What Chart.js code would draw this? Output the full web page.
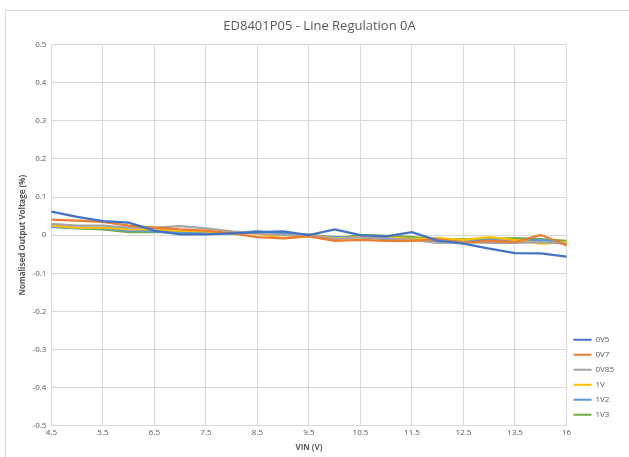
<!DOCTYPE html>
<html>
<head>
<meta charset="utf-8">
<script src="https://cdn.jsdelivr.net/npm/chart.js@4/dist/chart.umd.min.js"></script>
<style>
  body { margin: 0; background: #fff; }
  #wrap { position: relative; width: 629px; height: 457px; }
  #frame { position: absolute; left: 5px; top: 10px; right: -5px; bottom: -5px; border: 1px solid #d9d9d9; }
  canvas { position: absolute; left: 0; top: 0; }
</style>
</head>
<body>
<div id="wrap">
  <div id="frame"></div>
  <canvas id="myChart" width="629" height="457"></canvas>
</div>
<script>
  // input voltage categories (Excel category axis, label every other one)
  var vin = ['4.5', '5', '5.5', '6', '6.5', '7', '7.5', '8', '8.5', '9', '9.5', '10',
             '10.5', '11', '11.5', '12', '12.5', '13', '13.5', '15', '16'];

  var v0V5  = [0.062, 0.048, 0.037, 0.033, 0.012, 0.002, 0.002, 0.005, 0.008, 0.010, 0.000, 0.015,
               0.000, -0.003, 0.008, -0.014, -0.022, -0.035, -0.047, -0.048, -0.056];
  var v0V7  = [0.041, 0.038, 0.035, 0.025, 0.020, 0.015, 0.012, 0.005, -0.005, -0.008, -0.003, -0.015,
               -0.012, -0.015, -0.015, -0.010, -0.020, -0.015, -0.018, 0.001, -0.027];
  var v0V85 = [0.030, 0.025, 0.025, 0.020, 0.020, 0.024, 0.018, 0.010, 0.005, 0.000, 0.000, -0.010,
               -0.005, -0.008, -0.012, -0.020, -0.018, -0.020, -0.020, -0.018, -0.022];
  var v1V   = [0.025, 0.020, 0.020, 0.015, 0.015, 0.012, 0.010, 0.005, 0.005, -0.008, 0.000, -0.008,
               -0.005, -0.005, -0.010, -0.008, -0.012, -0.005, -0.012, -0.022, -0.018];
  var v1V2  = [0.022, 0.020, 0.018, 0.012, 0.010, 0.005, 0.005, 0.005, 0.010, 0.005, 0.000, -0.005,
               -0.005, -0.010, -0.012, -0.015, -0.015, -0.012, -0.015, -0.012, -0.020];
  var v1V3  = [0.022, 0.018, 0.015, 0.008, 0.008, 0.008, 0.005, 0.005, 0.010, 0.000, 0.002, -0.008,
               0.000, -0.002, -0.005, -0.010, -0.010, -0.010, -0.008, -0.010, -0.015];

  function line(label, values, color) {
    return {
      label: label,
      data: values,
      borderColor: color,
      backgroundColor: color,
      borderWidth: 2.25,
      pointRadius: 0,
      tension: 0
    };
  }

  var grey = '#595959';
  var ctx = document.getElementById('myChart').getContext('2d');
  var myChart = new Chart(ctx, {
    type: 'line',
    data: {
      labels: vin,
      datasets: [
        line('0V5', v0V5, '#4472C4'),
        line('0V7', v0V7, '#ED7D31'),
        line('0V85', v0V85, '#A5A5A5'),
        line('1V', v1V, '#FFC000'),
        line('1V2', v1V2, '#5B9BD5'),
        line('1V3', v1V3, '#70AD47')
      ]
    },
    options: {
      responsive: false,
      animation: false,
      layout: { padding: { left: 15, right: 5, top: 18, bottom: 4 } },
      plugins: {
        title: {
          display: true,
          text: 'ED8401P05 - Line Regulation 0A',
          color: grey,
          font: { family: 'Open Sans', size: 13, weight: 'normal' },
          padding: { top: 0, bottom: 11 }
        },
        legend: {
          position: 'right',
          align: 'end',
          fullSize: false,
          labels: {
            boxWidth: 18,
            boxHeight: 2,
            padding: 7,
            color: grey,
            font: { family: 'Open Sans', size: 8 },
            generateLabels: function (chart) {
              var items = Chart.defaults.plugins.legend.labels.generateLabels(chart);
              items.forEach(function (it) { it.lineWidth = 0; });
              return items;
            }
          }
        },
        tooltip: { enabled: false }
      },
      scales: {
        x: {
          type: 'category',
          offset: false,
          grid: {
            color: function (c) { return c.index % 2 === 0 ? '#d9d9d9' : 'rgba(0,0,0,0)'; },
            drawTicks: false
          },
          border: { display: false },
          ticks: {
            autoSkip: false,
            maxRotation: 0,
            padding: 2,
            color: grey,
            font: { family: 'Open Sans', size: 8 },
            callback: function (v, i) { return i % 2 === 0 ? this.getLabelForValue(v) : ''; }
          },
          title: {
            display: true,
            text: 'VIN (V)',
            color: grey,
            font: { family: 'Open Sans', size: 8, weight: 'bold' },
            padding: { top: 4, bottom: 0 }
          }
        },
        y: {
          min: -0.5,
          max: 0.5,
          grid: { color: '#d9d9d9', drawTicks: false },
          border: { display: false },
          ticks: {
            stepSize: 0.1,
            padding: 5,
            color: grey,
            font: { family: 'Open Sans', size: 8 },
            callback: function (v) { return String(Number(v.toFixed(1))); }
          },
          title: {
            display: true,
            text: 'Nomalised Output Voltage (%)',
            color: grey,
            font: { family: 'Open Sans', size: 8, weight: 'bold' },
            padding: { top: 3, bottom: 0 }
          }
        }
      }
    }
  });
</script>
</body>
</html>
